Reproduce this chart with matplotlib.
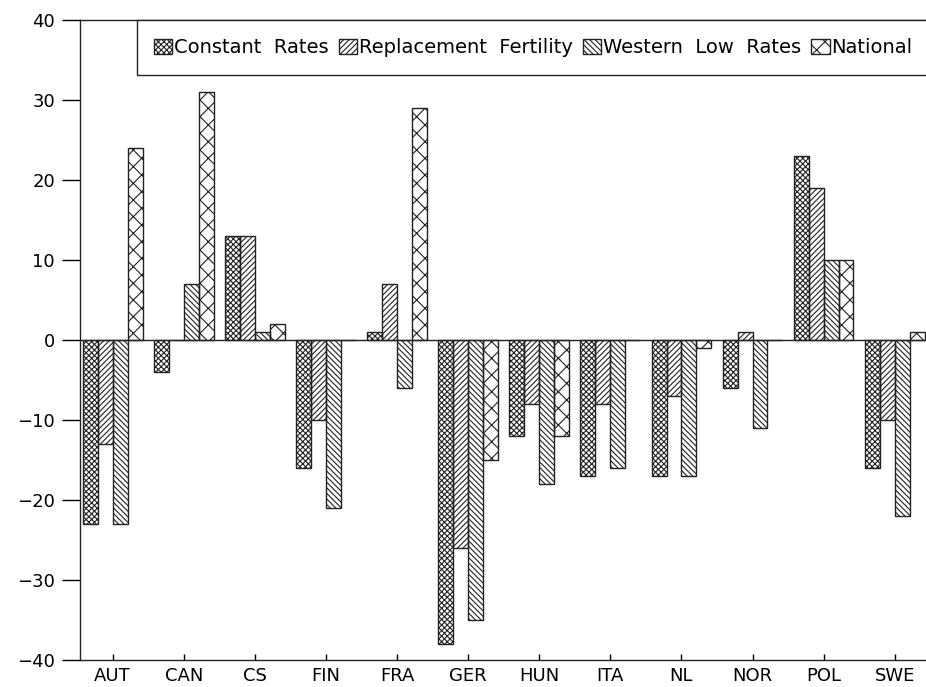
import numpy as np
import matplotlib.pyplot as plt
from matplotlib.patches import Rectangle

countries = ['AUT', 'CAN', 'CS', 'FIN', 'FRA', 'GER', 'HUN', 'ITA', 'NL', 'NOR', 'POL', 'SWE']
constant_rates = [-23, -4, 13, -16, 1, -38, -12, -17, -17, -6, 23, -16]
replacement_fertility = [-13, 0, 13, -10, 7, -26, -8, -8, -7, 1, 19, -10]
western_low_rates = [-23, 7, 1, -21, -6, -35, -18, -16, -17, -11, 10, -22]
national = [24, 31, 2, 0, 29, -15, -12, 0, -1, 0, 10, 1]

series = [
    ('Constant  Rates', constant_rates, 'xxxxxx'),
    ('Replacement  Fertility', replacement_fertility, '//////'),
    ('Western  Low  Rates', western_low_rates, '\\\\\\\\\\\\'),
    ('National', national, 'xx'),
]

plt.rcParams['hatch.linewidth'] = 0.8
plt.rcParams['font.family'] = 'DejaVu Sans'

fig = plt.figure(figsize=(9.26, 6.87), dpi=100)
ax = fig.add_axes([80 / 926, 27 / 687, 846 / 926, 640 / 687])

x = np.arange(len(countries))
w = 0.21
for i, (name, vals, hatch) in enumerate(series):
    ax.bar(x + (i - 1.5) * w, vals, w, fill=False, hatch=hatch,
           edgecolor='#222222', linewidth=1.0, label=name)

ax.axhline(0, color='#222222', linewidth=1.0)
ax.set_xlim(-0.46, 11.44)
ax.set_ylim(-40, 40)
ticks = list(range(-40, 41, 10))
ax.set_yticks(ticks)
ax.set_yticklabels([('\u2212' + str(abs(v))) if v < 0 else str(v) for v in ticks])
ax.set_xticks(x)
ax.set_xticklabels(countries)
ax.tick_params(axis='y', direction='out', length=13, width=1, labelsize=13, pad=5)
ax.tick_params(axis='x', direction='in', length=4, width=1, labelsize=13, pad=5)
ax.spines['right'].set_visible(False)
for s in ['left', 'top', 'bottom']:
    ax.spines[s].set_linewidth(1.0)
    ax.spines[s].set_color('#222222')

# legend box
ax.add_patch(Rectangle((57 / 846, (660 - 75) / 640), 1.0, 55 / 640, transform=ax.transAxes,
                       fill=True, facecolor='white', edgecolor='#222222', linewidth=1.0,
                       clip_on=False, zorder=4))
leg = ax.legend(ncol=4, loc='center left', bbox_to_anchor=(74 / 846, (660 - 47.5) / 640),
                fontsize=14, handlelength=0.95, handleheight=0.85,
                handletextpad=0.1, columnspacing=0.5, borderpad=0,
                frameon=False, borderaxespad=0)
leg.set_zorder(5)

plt.savefig('out.png', dpi=100)
